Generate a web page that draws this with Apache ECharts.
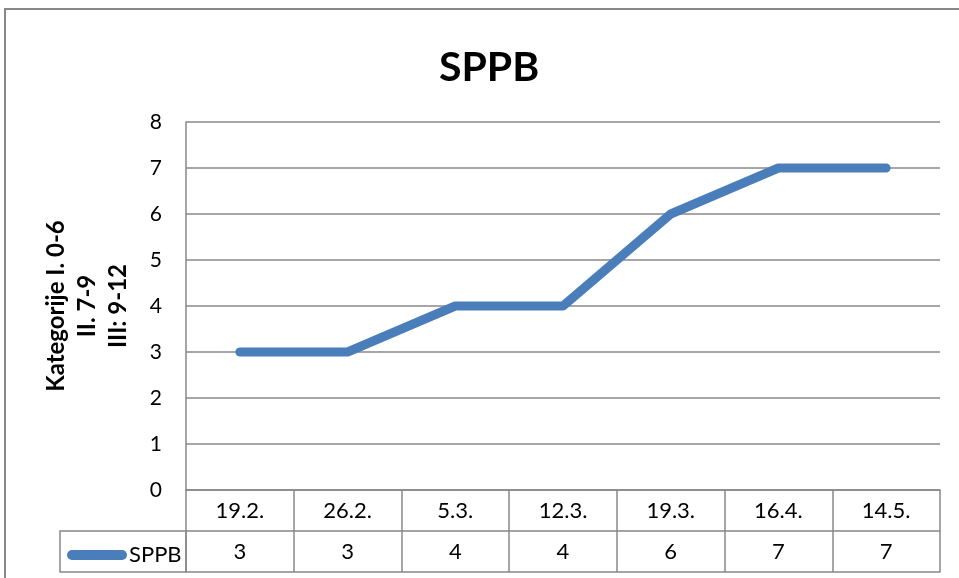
<!DOCTYPE html>
<html>
<head>
	<meta charset="UTF-8">
	<title>SPPB</title>
	<script src="https://cdn.jsdelivr.net/npm/echarts@6/dist/echarts.min.js"></script>
	<style>
		html, body {
			margin: 0;
			padding: 0;
			background: #fff;
		}
		#main {
			width: 959px;
			height: 578px;
		}
	</style>
</head>
<body>
<div id="main"></div>
<script type="text/javascript">
    // podaci
    var dates = ['19.2.', '26.2.', '5.3.', '12.3.', '19.3.', '16.4.', '14.5.'];
    var sppb = [3, 3, 4, 4, 6, 7, 7];
    var yTicks = {min: 0, max: 8, step: 1};

    var FONT = 'Lato';
    var GRAY = '#888888';

    var myChart = echarts.init(document.getElementById('main'));

    // jedna kategorija u tablici ispod grafa
    function tableAxis(idx, formatter) {
        return {
            type: 'category',
            gridIndex: idx,
            data: dates,
            boundaryGap: true,
            axisLine: {show: true, lineStyle: {color: GRAY, width: 1.5}},
            axisTick: {show: false},
            splitLine: {show: true, interval: 0, lineStyle: {color: GRAY, width: 1.5}},
            axisLabel: {
                interval: 0,
                margin: -20,
                verticalAlign: 'middle',
                fontSize: 22,
                fontFamily: FONT,
                color: '#000',
                formatter: formatter
            }
        };
    }

    myChart.setOption({
        animation: false,
        title: {
            text: 'SPPB',
            left: 434,
            top: 42,
            textStyle: {fontSize: 41, fontWeight: 'bold', fontFamily: FONT, color: '#000'}
        },
        legend: {
            data: ['SPPB'],
            left: 62,
            top: 539,
            itemWidth: 60,
            itemHeight: 10,
            itemGap: 4,
            icon: 'path://M5,0 L55,0 A5,5 0 0 1 55,10 L5,10 A5,5 0 0 1 5,0 Z',
            textStyle: {fontSize: 22, fontFamily: FONT, color: '#000', padding: [0, 0, 0, -3]}
        },
        graphic: [
            {   // okvir grafa
                type: 'rect',
                shape: {x: 5, y: 9, width: 1000, height: 1000},
                style: {fill: null, stroke: GRAY, lineWidth: 2},
                silent: true
            },
            {   // celija legende u tablici
                type: 'rect',
                shape: {x: 60, y: 531, width: 126, height: 41},
                style: {fill: null, stroke: GRAY, lineWidth: 1.5},
                silent: true
            }
        ],
        grid: [
            {left: 186, right: 19, top: 122, bottom: 88},
            {left: 186, right: 19, top: 490, height: 41},
            {left: 186, right: 19, top: 531, height: 41}
        ],
        xAxis: [
            {
                type: 'category',
                gridIndex: 0,
                data: dates,
                boundaryGap: true,
                axisLine: {show: true, lineStyle: {color: GRAY, width: 1.5}},
                axisTick: {show: false},
                axisLabel: {show: false}
            },
            tableAxis(1, function (v) { return v; }),
            tableAxis(2, function (v, i) { return String(sppb[i]); })
        ],
        yAxis: [
            {
                type: 'value',
                gridIndex: 0,
                min: yTicks.min,
                max: yTicks.max,
                interval: yTicks.step,
                name: 'Kategorije I. 0-6\nII. 7-9\nIII: 9-12',
                nameLocation: 'middle',
                nameRotate: 90,
                nameGap: 52,
                nameTextStyle: {fontSize: 24, fontWeight: 'bold', fontFamily: FONT, color: '#000', lineHeight: 31},
                axisLine: {show: true, lineStyle: {color: GRAY, width: 1.5}},
                axisTick: {show: false},
                splitLine: {show: true, lineStyle: {color: GRAY, width: 1.5}},
                axisLabel: {margin: 24, fontSize: 21, fontFamily: FONT, color: '#000'}
            },
            {type: 'value', gridIndex: 1, show: false},
            {type: 'value', gridIndex: 2, show: false}
        ],
        series: [
            {
                name: 'SPPB',
                type: 'line',
                xAxisIndex: 0,
                yAxisIndex: 0,
                data: sppb,
                showSymbol: false,
                symbol: 'none',
                itemStyle: {color: '#4A7EBB'},
                lineStyle: {color: '#4A7EBB', width: 9, cap: 'round', join: 'round'}
            }
        ]
    });
</script>
</body>
</html>
